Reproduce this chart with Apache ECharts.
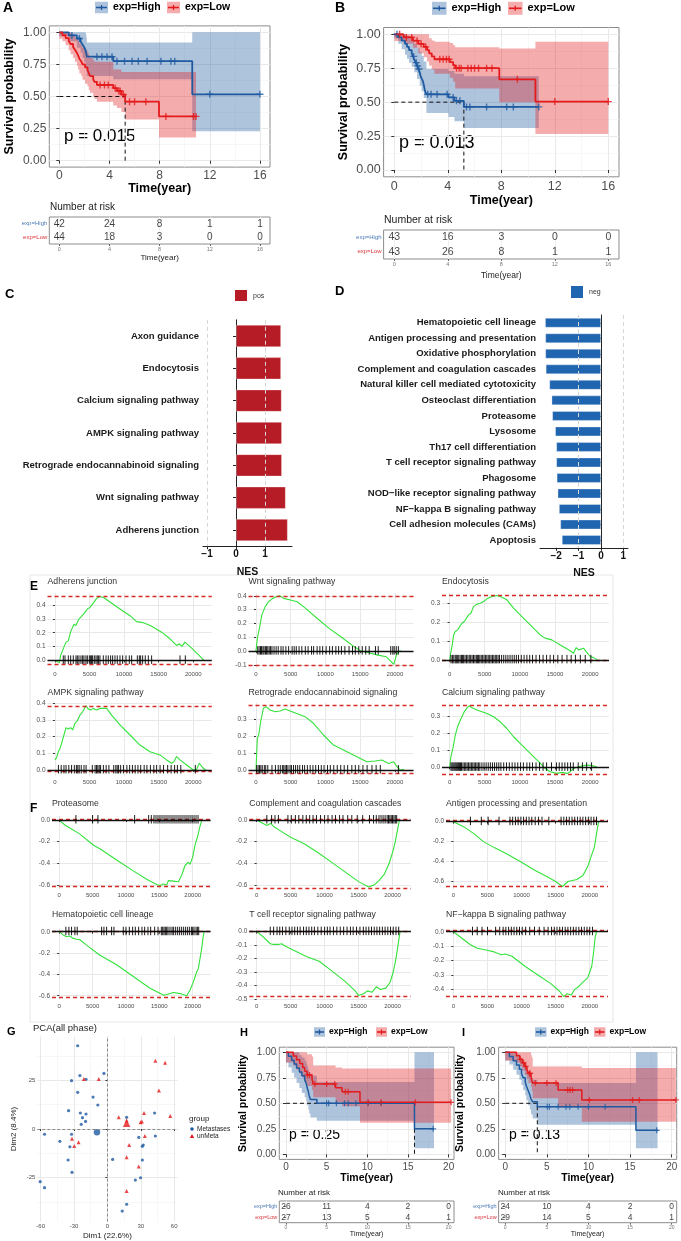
<!DOCTYPE html>
<html>
<head>
<meta charset="utf-8">
<script src="https://cdn.jsdelivr.net/npm/echarts@6.0.0/dist/echarts.min.js"></script>
<style>
html,body{margin:0;padding:0;background:#fff;}
#chart{width:681px;height:1241px;}
</style>
</head>
<body>
<div id="chart"></div>
<script>
// ---------- A: survival (time in years, probability) ----------
const aHighSurv = [[0,1],[0.75,0.976],[1.4,0.952],[1.7,0.929],[1.85,0.905],[2.0,0.881],[2.1,0.857],[2.15,0.833],[2.2,0.81],[4.3,0.775],[10.6,0.517],[16,0.517]];
const aLowSurv = [[0,1],[0.25,0.977],[0.5,0.955],[0.75,0.932],[0.9,0.909],[1.1,0.886],[1.25,0.864],[1.4,0.841],[1.5,0.818],[1.6,0.795],[1.75,0.773],[1.85,0.75],[2.05,0.727],[2.25,0.705],[2.35,0.682],[2.45,0.659],[2.7,0.636],[2.8,0.614],[3.0,0.59],[4.3,0.566],[4.6,0.543],[4.95,0.515],[5.25,0.46],[7.95,0.345],[10.9,0.345]];
const aHighCensor = [[1.0,0.976],[1.6,0.952],[3.0,0.81],[3.4,0.81],[3.8,0.81],[4.2,0.81],[4.6,0.775],[5.2,0.775],[5.8,0.775],[6.3,0.775],[7.0,0.775],[8.1,0.775],[8.9,0.775],[9.2,0.775],[12,0.517],[16,0.517]];
const aLowCensor = [[3.25,0.59],[3.6,0.59],[3.9,0.59],[4.45,0.566],[4.75,0.543],[4.85,0.543],[5.1,0.515],[5.6,0.46],[6.0,0.46],[6.9,0.46],[8.5,0.345],[10.7,0.345],[10.9,0.345]];
const aHighCI = [[0,0.97,1],[0.75,0.93,1],[1.4,0.88,1],[1.7,0.84,1],[1.85,0.8,1],[2.0,0.77,1],[2.1,0.73,0.99],[2.15,0.7,0.96],[2.2,0.66,0.92],[4.3,0.635,0.92],[10.6,0.23,1],[16]];
const aLowCI = [[0,0.95,1],[0.25,0.93,1],[0.5,0.9,1],[0.75,0.86,1],[0.9,0.83,0.99],[1.1,0.8,0.98],[1.25,0.77,0.96],[1.4,0.74,0.95],[1.5,0.71,0.93],[1.6,0.68,0.91],[1.75,0.66,0.9],[1.85,0.63,0.88],[2.05,0.6,0.86],[2.25,0.58,0.84],[2.35,0.55,0.82],[2.45,0.53,0.8],[2.7,0.5,0.78],[2.8,0.48,0.77],[3.0,0.46,0.77],[4.3,0.43,0.71],[4.6,0.41,0.71],[4.95,0.38,0.69],[5.25,0.32,0.69],[7.95,0.18,0.69],[10.9]];
const aMedian = 5.25;
const aRiskTimes = [0,4,8,12,16];
const aRiskHigh = [42,24,8,1,1];
const aRiskLow = [44,18,3,0,0];

// ---------- B ----------
const bHighSurv = [[0,1],[0.3,0.977],[0.55,0.953],[0.8,0.93],[0.95,0.907],[1.1,0.884],[1.3,0.86],[1.4,0.837],[1.5,0.814],[1.6,0.791],[1.7,0.767],[1.8,0.744],[1.9,0.721],[1.95,0.698],[2.05,0.674],[2.15,0.651],[2.2,0.628],[2.25,0.605],[2.3,0.581],[2.4,0.558],[4.05,0.535],[4.5,0.51],[5.2,0.465],[10.8,0.465]];
const bLowSurv = [[0,1],[0.7,0.977],[1.4,0.953],[1.8,0.93],[2.2,0.907],[2.45,0.884],[2.6,0.86],[2.8,0.837],[3.0,0.816],[4.15,0.795],[4.4,0.772],[4.55,0.75],[7.85,0.668],[10.55,0.504],[16,0.504]];
const bHighCensor = [[0.2,1],[1.45,0.837],[1.65,0.791],[1.75,0.767],[1.85,0.744],[2.5,0.558],[2.75,0.558],[3.2,0.558],[3.95,0.558],[4.4,0.535],[4.65,0.51],[4.9,0.51],[5.4,0.465],[5.65,0.465],[6.9,0.465],[8.4,0.465],[8.9,0.465],[10.8,0.465]];
const bLowCensor = [[0.4,1],[0.9,0.977],[1.3,0.977],[1.7,0.953],[2.0,0.93],[2.35,0.907],[3.4,0.816],[3.65,0.816],[3.9,0.816],[4.1,0.816],[4.65,0.75],[4.85,0.75],[5.0,0.75],[5.5,0.75],[5.75,0.75],[6.0,0.75],[6.3,0.75],[6.9,0.75],[7.3,0.75],[9.2,0.668],[12,0.504],[16,0.504]];
const bHighCI = [[0,0.97,1],[0.3,0.93,1],[0.55,0.89,1],[0.8,0.85,1],[0.95,0.82,0.99],[1.1,0.79,0.97],[1.3,0.76,0.95],[1.5,0.72,0.93],[1.7,0.67,0.9],[1.9,0.62,0.87],[2.05,0.58,0.84],[2.2,0.53,0.8],[2.4,0.42,0.745],[4.05,0.39,0.73],[4.5,0.36,0.71],[5.2,0.31,0.69],[10.8]];
const bLowCI = [[0,0.95,1],[0.7,0.93,1],[1.4,0.9,1],[1.8,0.86,1],[2.2,0.83,1],[2.45,0.8,1],[2.6,0.77,0.97],[2.8,0.74,0.955],[3.0,0.71,0.945],[4.15,0.68,0.935],[4.4,0.65,0.92],[4.55,0.6,0.905],[7.85,0.5,0.895],[10.55,0.265,0.945],[16]];
const bMedian = 5.2;
const bRiskTimes = [0,4,8,12,16];
const bRiskHigh = [43,16,3,0,0];
const bRiskLow = [43,26,8,1,1];

// ---------- H ----------
const hHighSurv = [[0,1],[0.3,0.962],[0.7,0.923],[1.0,0.885],[1.3,0.846],[1.65,0.808],[1.95,0.769],[2.3,0.731],[2.5,0.692],[2.6,0.654],[2.75,0.615],[2.85,0.577],[3.0,0.538],[3.8,0.5],[15.8,0.25],[18.2,0.25]];
const hLowSurv = [[0,1],[0.9,0.963],[1.3,0.926],[1.7,0.889],[2.05,0.852],[2.3,0.815],[2.6,0.778],[3.2,0.741],[3.35,0.69],[6.1,0.652],[6.9,0.614],[9.1,0.51],[20.3,0.51]];
const hHighCensor = [[5.0,0.5],[5.25,0.5],[6.2,0.5],[7.2,0.5],[7.65,0.5],[8.6,0.5],[10.1,0.5],[11.7,0.5],[18.1,0.25]];
const hLowCensor = [[2.65,0.778],[2.9,0.778],[3.55,0.69],[5.0,0.69],[6.0,0.69],[7.3,0.614],[7.65,0.614],[10.1,0.51],[11.7,0.51],[15.9,0.51],[20.3,0.51]];
const hHighCI = [[0,0.9,1],[0.3,0.85,1],[0.7,0.8,1],[1.0,0.75,1],[1.3,0.7,1],[1.65,0.65,0.97],[1.95,0.6,0.95],[2.3,0.56,0.92],[2.5,0.52,0.89],[2.6,0.48,0.86],[2.75,0.44,0.83],[2.85,0.4,0.8],[3.0,0.36,0.77],[3.8,0.33,0.71],[15.8,0.06,1],[18.2]];
const hLowCI = [[0,0.9,1],[0.9,0.87,1],[1.3,0.83,1],[1.7,0.79,1],[2.05,0.75,1],[2.3,0.71,1],[2.6,0.67,0.98],[3.2,0.63,0.96],[3.35,0.56,0.87],[6.1,0.51,0.85],[6.9,0.47,0.84],[9.1,0.31,0.84],[20.3]];
const hMedian = 15.8;
const hRiskTimes = [0,5,10,15,20];
const hRiskHigh = [26,11,4,2,0];
const hRiskLow = [27,13,5,4,1];

// ---------- I ----------
const iHighSurv = [[0,1],[0.5,0.958],[0.95,0.917],[1.35,0.875],[1.7,0.833],[1.95,0.792],[2.15,0.75],[2.4,0.708],[2.55,0.667],[2.75,0.625],[2.95,0.583],[3.1,0.542],[3.3,0.515],[3.85,0.467],[15.7,0.235],[18.3,0.235]];
const iLowSurv = [[0,1],[1.35,0.966],[1.75,0.931],[2.05,0.897],[2.35,0.862],[2.6,0.828],[2.8,0.793],[3.1,0.759],[3.2,0.724],[3.3,0.7],[6.35,0.63],[9.2,0.533],[20.5,0.533]];
const iHighCensor = [[5.05,0.467],[5.3,0.467],[6.35,0.467],[7.3,0.467],[7.75,0.467],[8.75,0.467],[10.0,0.467],[12.0,0.467],[18.2,0.235]];
const iLowCensor = [[1.8,0.931],[2.2,0.897],[2.45,0.862],[2.9,0.793],[3.0,0.793],[3.6,0.7],[5.0,0.7],[6.1,0.7],[7.5,0.63],[7.8,0.63],[8.1,0.63],[10.1,0.533],[15.3,0.533],[16.1,0.533],[20.5,0.533]];
const iHighCI = [[0,0.92,1],[0.5,0.88,1],[0.95,0.83,1],[1.35,0.78,0.98],[1.7,0.73,0.95],[1.95,0.68,0.93],[2.15,0.63,0.9],[2.4,0.58,0.87],[2.55,0.53,0.84],[2.75,0.48,0.81],[2.95,0.44,0.78],[3.1,0.39,0.75],[3.3,0.35,0.73],[3.85,0.29,0.7],[15.7,0.06,1],[18.3]];
const iLowCI = [[0,0.92,1],[1.35,0.9,1],[1.75,0.86,1],[2.05,0.82,1],[2.35,0.78,1],[2.6,0.74,1],[2.8,0.7,1],[3.1,0.66,0.97],[3.2,0.62,0.95],[3.3,0.55,0.86],[6.35,0.46,0.86],[9.2,0.32,0.845],[20.5]];
const iMedian = 3.85;
const iRiskTimes = [0,5,10,15,20];
const iRiskHigh = [24,10,4,2,0];
const iRiskLow = [29,14,5,4,1];

// ---------- C / D: NES bars ----------
const posPathways = ['Axon guidance','Endocytosis','Calcium signaling pathway','AMPK signaling pathway','Retrograde endocannabinoid signaling','Wnt signaling pathway','Adherens junction'];
const posNES = [1.55,1.55,1.57,1.58,1.58,1.71,1.78];
const negPathways = ['Hematopoietic cell lineage','Antigen processing and presentation','Oxidative phosphorylation','Complement and coagulation cascades','Natural killer cell mediated cytotoxicity','Osteoclast differentiation','Proteasome','Lysosome','Th17 cell differentiation','T cell receptor signaling pathway','Phagosome','NOD\u2212like receptor signaling pathway','NF\u2212kappa B signaling pathway','Cell adhesion molecules (CAMs)','Apoptosis'];
const negNES = [-2.49,-2.48,-2.48,-2.46,-2.30,-2.20,-2.17,-2.04,-1.99,-1.99,-1.97,-1.93,-1.87,-1.81,-1.74];

// ---------- E / F: running enrichment score [rank, ES] and hit ranks ----------
const gseaTitles = ['Adherens junction','Wnt signaling pathway','Endocytosis','AMPK signaling pathway','Retrograde endocannabinoid signaling','Calcium signaling pathway','Proteasome','Complement and coagulation cascades','Antigen processing and presentation','Hematopoietic cell lineage','T cell receptor signaling pathway','NF\u2212kappa B signaling pathway'];
const esAdherens = [[0,0],[240,-0.007],[630,-0.017],[820,0.036],[1110,0.072],[1350,0.103],[1590,0.132],[1930,0.141],[2270,0.208],[2750,0.261],[3040,0.251],[3370,0.292],[3760,0.314],[4190,0.338],[4680,0.371],[5060,0.383],[5540,0.414],[6030,0.448],[6510,0.462],[7090,0.453],[7950,0.422],[9400,0.371],[10850,0.323],[11810,0.28],[12530,0.275],[13260,0.263],[13980,0.247],[15420,0.204],[16630,0.156],[17590,0.108],[17980,0.12],[18360,0.101],[18800,0.132],[19760,0.089],[20730,0.041],[21550,0]];
const hitsAdherens = [1200,1450,1930,2270,2650,3040,3230,3470,3760,4000,4190,4480,4680,4970,5160,5300,5450,5690,5930,6120,6310,6510,6990,7380,7710,8050,8340,8680,9010,9400,9790,10270,10750,11090,11910,12200,12390,12680,13060,13500,13980,18080,18850];
const esWnt = [[0,0],[190,0.092],[490,0.164],[830,0.26],[1310,0.32],[1800,0.357],[2280,0.376],[2910,0.393],[3400,0.4],[3980,0.381],[4950,0.369],[5920,0.357],[6890,0.32],[8830,0.236],[10530,0.164],[12220,0.104],[14160,0.031],[15130,0],[16100,-0.01],[17560,-0.029],[18770,-0.041],[19500,-0.077],[19840,-0.096],[20220,-0.029],[20560,0],[20950,0]];
const hitsWnt = [250,450,650,800,1000,1150,1350,1500,1700,1900,2100,2300,2600,2900,3200,3600,3900,4300,4700,5200,5500,5800,6200,6600,7100,7500,8000,8300,8800,9200,9600,10100,10600,11000,11500,11900,12300,12800,13400,13900,14300,14800,15300,15800,16300,17200,17600,19400,19700,19900,20200,20500];
const esEndocytosis = [[0,0],[190,0.044],[380,0.079],[570,0.132],[810,0.15],[1140,0.159],[1420,0.154],[1750,0.194],[2090,0.203],[2700,0.238],[3030,0.247],[3410,0.282],[3890,0.295],[4360,0.3],[4840,0.309],[5310,0.323],[6020,0.335],[6730,0.341],[7210,0.335],[8150,0.318],[9100,0.274],[10290,0.229],[11470,0.185],[12890,0.132],[13600,0.115],[14550,0.106],[15740,0.079],[17160,0.048],[17630,0.035],[18010,0.065],[18340,0.053],[19060,0.062],[19430,0.044],[20000,0.018],[20480,0.012],[21050,0]];
const hitsEndocytosis = [200,400,600,800,950,1100,1300,1500,1700,1850,2000,2200,2400,2600,2800,3000,3200,3400,3600,3800,3950,4100,4300,4500,4700,4900,5100,5300,5500,5700,5900,6100,6300,6500,6700,6900,7100,7400,7700,8000,8300,8600,8900,9200,9500,9800,10200,10600,11000,11400,11800,12300,12800,13300,13800,14300,14800,15400,16000,16700,17300,17900,18600,19300,20100];
const esAMPK = [[0,0.06],[240,0.074],[480,0.109],[720,0.129],[960,0.159],[1300,0.209],[1590,0.253],[1930,0.245],[2270,0.253],[2560,0.239],[2890,0.279],[3230,0.293],[3620,0.328],[4000,0.348],[4480,0.384],[4820,0.364],[5160,0.358],[5540,0.368],[6030,0.358],[6510,0.368],[7470,0.368],[8190,0.328],[9400,0.269],[10850,0.209],[12290,0.149],[13740,0.109],[15180,0.09],[16150,0.06],[16870,0.04],[17210,0.05],[17590,0.08],[18080,0.06],[19040,0.03],[20000,0],[20490,0.004],[20870,0.04],[21450,0.01],[21800,0]];
const hitsAMPK = [500,900,1300,1600,2000,2400,2800,3100,3300,3500,3800,4200,4500,5400,5800,6000,6200,6400,6600,7000,7400,7800,8500,8800,9000,9200,9500,9900,10400,10800,11200,11600,12000,12400,12900,13300,13800,14300,14700,15200,15700,16300,16800,17300,17700,18200,20300];
const esRetrograde = [[0,0],[190,0.186],[390,0.206],[670,0.284],[1060,0.363],[1440,0.373],[2020,0.353],[2740,0.343],[3460,0.347],[4190,0.359],[4910,0.347],[5870,0.333],[7070,0.314],[8270,0.275],[9720,0.206],[11160,0.147],[12600,0.118],[14530,0.078],[15970,0.049],[17170,0.053],[18130,0.059],[19100,0.039],[19820,0.049],[20300,0.02],[20780,0],[21260,0.004]];
const hitsRetrograde = [100,300,500,700,900,1200,1400,1700,2300,2800,3200,3500,3800,4000,4200,4400,4600,4900,5100,5400,5700,6000,6300,6700,7000,7400,7800,8200,8600,9000,9400,9800,10300,10700,11200,11700,12200,12700,13200,13800,14300,14800,15400,16000,16700,17300,17900,20500];
const esCalcium = [[0,0],[190,0.062],[470,0.11],[810,0.188],[1140,0.236],[1420,0.265],[1750,0.294],[2090,0.323],[2470,0.346],[2840,0.358],[3180,0.346],[3890,0.333],[4600,0.323],[5310,0.313],[6260,0.294],[7210,0.265],[8150,0.226],[9100,0.178],[10290,0.13],[11470,0.081],[12660,0.033],[13600,-0.006],[14320,-0.025],[15260,-0.035],[15970,-0.029],[16690,-0.035],[17160,-0.025],[17630,-0.006],[18340,0.004],[19060,0.01],[19770,0.014],[20240,0.01],[20950,0.004]];
const hitsCalcium = [200,350,500,650,800,950,1100,1250,1400,1550,1700,1900,2100,2300,2500,2700,2900,3100,3300,3500,3700,3900,4100,4300,4600,4900,5200,5500,5800,6100,6400,6700,7000,7300,7700,8100,8500,8900,9300,9700,10100,10500,11000,11400,11800,12300,12800,13300,13800,14500,15200,15600,16000,16400,16800,17200,17600,18300,18900,19500,20200];
const esProteasome = [[0,0],[850,-0.046],[3100,-0.13],[5200,-0.235],[6100,-0.265],[8600,-0.37],[11100,-0.47],[13100,-0.548],[14600,-0.595],[15100,-0.605],[15600,-0.592],[16100,-0.6],[16350,-0.56],[17100,-0.565],[17850,-0.57],[18350,-0.51],[18850,-0.42],[19350,-0.39],[19600,-0.41],[20000,-0.34],[20350,-0.23],[20750,-0.15],[21000,-0.08],[21350,0]];
const hitsProteasome = [2500,5000,5800,11300,13400,13800,14200,14500,14800,15100,15400,15700,16000,16300,16600,16900,17200,17500,17800,18100,18400,18700,19000,19300,19600,19900,20200,20500,20800];
const esComplement = [[0,0],[1500,-0.05],[2100,-0.03],[2500,-0.06],[3500,-0.1],[5000,-0.16],[7000,-0.22],[9000,-0.3],[11000,-0.39],[13000,-0.48],[15000,-0.57],[16500,-0.62],[17300,-0.6],[18000,-0.56],[18800,-0.5],[19500,-0.4],[20000,-0.3],[20400,-0.2],[20700,-0.1],[21000,0]];
const hitsComplement = [1500,2200,2700,3200,4600,5100,5700,6200,6800,7300,7800,8300,8800,9400,10000,10500,11100,11600,12200,12700,13400,14000,14800,15600,16600,17200,17600,18000,18300,18600,18900,19200,19400,19600,19800,20000,20200,20400,20600];
const esAntigen = [[0,0],[1500,-0.05],[3000,-0.12],[4400,-0.2],[6000,-0.26],[8000,-0.33],[9800,-0.4],[12000,-0.49],[13700,-0.55],[15000,-0.6],[16000,-0.65],[16800,-0.6],[18100,-0.58],[19000,-0.54],[19700,-0.45],[20300,-0.33],[20700,-0.25],[21000,-0.12],[21300,0]];
const hitsAntigen = [2500,4100,5100,6700,8300,8700,9100,9500,9900,10300,10700,11100,11500,12000,12500,13000,14000,15800,16200,16600,17000,17400,17800,18200,18600,19000,19400,19800,20200,20600,21000];
const esHematopoietic = [[0,0],[600,-0.03],[1100,-0.047],[1600,-0.04],[2000,-0.06],[2600,-0.07],[3100,-0.075],[4100,-0.125],[6100,-0.22],[8600,-0.31],[11100,-0.42],[13600,-0.53],[15600,-0.594],[16100,-0.588],[17100,-0.57],[18100,-0.58],[19100,-0.6],[19600,-0.547],[20100,-0.47],[20600,-0.375],[20850,-0.344],[21100,-0.25],[21350,-0.156],[21600,-0.03],[21750,0]];
const hitsHematopoietic = [1000,1450,1850,2350,2700,6350,6700,7100,7850,8200,9600,10000,10500,11000,11400,11900,12400,12800,13300,13700,14300,14800,15300,15500,15700,15900,16100,16300,16600,16900,17100,17400,17700,18000,18300,18600,18900,19200,19500,19800,20000,20200,20500,20700,20900];
const esTcell = [[0,0],[1000,-0.04],[2000,-0.09],[2500,-0.095],[3200,-0.095],[3700,-0.09],[4100,-0.105],[5300,-0.135],[7300,-0.185],[9200,-0.22],[11000,-0.29],[13000,-0.37],[14500,-0.44],[15000,-0.475],[15800,-0.46],[16300,-0.44],[17000,-0.45],[17600,-0.41],[18200,-0.43],[19000,-0.42],[19600,-0.38],[20100,-0.3],[20500,-0.2],[20800,-0.1],[21100,0]];
const hitsTcell = [2000,2500,3000,3400,3800,4300,4800,5200,5600,6000,6400,6900,7300,7700,8100,8500,9000,9500,10000,10400,10800,11300,11800,12300,12800,13300,13800,14200,14700,15200,15700,16100,16500,16900,17300,17700,18100,18500,18900,19300,19700,20100,20500,20900];
const esNFkB = [[0,0],[2500,-0.09],[3500,-0.115],[4800,-0.127],[6000,-0.14],[7000,-0.16],[7600,-0.155],[8600,-0.17],[10500,-0.24],[12400,-0.3],[14300,-0.36],[15600,-0.415],[16200,-0.45],[16700,-0.43],[17300,-0.44],[17800,-0.4],[18400,-0.38],[19000,-0.35],[19700,-0.32],[20300,-0.24],[20600,-0.13],[20800,-0.035],[21000,0]];
const hitsNFkB = [2800,3500,4200,5000,6200,6800,7300,7700,8100,8500,8900,9300,9700,10100,10600,11200,11900,12600,13300,13900,14400,14800,15200,15600,16000,16400,16800,17200,17600,18000,18400,18800,19200,19600,20000,20400];
const esPeaks = [[0.462,-0.03],[0.4,-0.097],[0.34,0],[0.382,-0.012],[0.376,-0.016],[0.357,-0.04],[0.01,-0.61],[0.01,-0.625],[0.005,-0.652],[0.004,-0.61],[0.003,-0.48],[0.008,-0.452]];
const esTicks = [[0,0.1,0.2,0.3,0.4],[-0.1,0,0.1,0.2,0.3,0.4],[0,0.1,0.2,0.3],[0,0.1,0.2,0.3,0.4],[0,0.1,0.2,0.3],[0,0.1,0.2,0.3],[-0.6,-0.4,-0.2,0],[-0.6,-0.4,-0.2,0],[-0.6,-0.4,-0.2,0],[-0.6,-0.4,-0.2,0],[-0.5,-0.4,-0.3,-0.2,-0.1,0],[-0.4,-0.3,-0.2,-0.1,0]];
const rankTicks = [0,5000,10000,15000,20000];

// ---------- G: PCA ----------
const metaPoints = [[-26.7,42.7],[-24.7,27.4],[-19.2,25.5],[-32.2,24.8],[-3.1,28.5],[-26.7,18.8],[-12.9,16.4],[-8.6,12.3],[-24.3,8.2],[-19.2,7.7],[-34.9,9.4],[-22.4,5.8],[-19.6,3.9],[-23.5,2.4],[-56.5,-2.7],[-42.7,-6.3],[-32.2,-2.7],[-33.7,-9.1],[-35.3,-15.9],[-31.8,-22.2],[-60.4,-27],[-56.5,-30.1],[32.2,-8.2],[31.4,-8.9],[28.2,-4.3],[43.1,-3.6],[42.4,8.2],[17.3,6.0],[4.7,-15.6],[31.4,-15.9],[29.8,-25],[25.1,-26.2],[17.3,-38.6],[13.3,-42.1]];
const unMetaPoints = [[-21.2,25.6],[-7.8,25.6],[-31.8,-5],[-25.9,-6.8],[-29.8,-8.7],[10.2,6.0],[17.3,4.3],[29.8,3.4],[31,3.9],[32.9,8.2],[19.6,-8.2],[17.3,-14.5],[28.2,-19.3],[17.3,-31.8],[33.7,-3.6],[43.1,35],[51.8,34],[46.3,19.7],[56.5,6.7]];
const metaCenter = [[-9.4,-1.7]];
const unMetaCenter = [[17.3,2.9]];

// ---------- build ----------
const FF = '"Liberation Sans", Arial, sans-serif';
const BLUE = '#1f5aa0', RED = '#e41a1c';
const BLUE_F = 'rgba(31,91,161,0.36)', RED_F = 'rgba(228,26,28,0.36)';
const PLUS = 'path://M4,0h2v4h4v2h-4v4h-2v-4h-4v-2h4z';
const grids = [], xAxes = [], yAxes = [], series = [], graphics = [];

function txt(x, y, t, o) {
  o = o || {};
  graphics.push({type:'text', x:x, y:y, rotation:o.rot || 0, silent:true,
    style:{text:t, fill:o.color || '#000', fontSize:o.size || 10, fontWeight:o.bold ? 'bold' : 'normal', fontFamily:FF,
      align:o.align || 'left', verticalAlign:o.va || 'middle', textAlign:o.align || 'left', textVerticalAlign:o.va || 'middle'}});
}
function addGrid(l, t, w, h, extra) {
  grids.push(Object.assign({left:l, top:t, width:w, height:h, outerBoundsMode:'none', containLabel:false}, extra || {}));
  return grids.length - 1;
}
function bandSeries(xi, yi, band, fill) {
  return {type:'custom', xAxisIndex:xi, yAxisIndex:yi, silent:true, z:1, data:[[band[0][0], band[0][1]]],
    renderItem: function (params, api) {
      const up = [], lo = [];
      for (let i = 0; i < band.length - 1; i++) {
        const t0 = band[i][0], t1 = band[i + 1][0];
        up.push(api.coord([t0, band[i][2]]), api.coord([t1, band[i][2]]));
        lo.push(api.coord([t0, band[i][1]]), api.coord([t1, band[i][1]]));
      }
      return {type:'polygon', shape:{points:up.concat(lo.reverse())}, style:{fill:fill}};
    }};
}

function kmPlot(o) {
  const g = addGrid(o.l, o.t, o.w, o.h, {show:true, borderColor:'#8c8c8c', borderWidth:1, backgroundColor:'#fff'});
  const yt = [0,0.25,0.5,0.75,1];
  const xi = xAxes.length;
  xAxes.push({gridIndex:g, type:'value', min:o.xMin, max:o.xMax, axisLine:{show:false},
    axisTick:{show:true, length:3, customValues:o.xTicks, lineStyle:{color:'#333'}},
    axisLabel:{customValues:o.xTicks, fontSize:o.fs, color:'#4d4d4d', margin:3, fontFamily:FF},
    splitLine:{show:true, lineStyle:{color:'#e9e9e9', width:1}},
    name:'Time(year)', nameLocation:'middle', nameGap:o.xGap, nameMoveOverlap:false,
    nameTextStyle:{fontSize:o.nfs, fontWeight:'bold', color:'#000', fontFamily:FF}});
  xAxes.push({gridIndex:g, type:'value', min:o.xMin, max:o.xMax, axisLine:{show:false}, axisLabel:{show:false},
    axisTick:{show:false, customValues:o.xMinor}, splitLine:{show:true, lineStyle:{color:'#f3f3f3', width:0.7}}});
  const yi = yAxes.length;
  yAxes.push({gridIndex:g, type:'value', min:-0.05, max:1.05, axisLine:{show:false},
    axisTick:{show:true, length:3, customValues:yt, lineStyle:{color:'#333'}},
    axisLabel:{customValues:yt, formatter:v => v.toFixed(2), fontSize:o.fs, color:'#4d4d4d', margin:3, fontFamily:FF},
    splitLine:{show:true, lineStyle:{color:'#e9e9e9', width:1}},
    name:'Survival probability', nameLocation:'middle', nameGap:o.yGap, nameRotate:90, nameMoveOverlap:false,
    nameTextStyle:{fontSize:o.nfs, fontWeight:'bold', color:'#000', fontFamily:FF}});
  yAxes.push({gridIndex:g, type:'value', min:-0.05, max:1.05, axisLine:{show:false}, axisLabel:{show:false},
    axisTick:{show:false, customValues:[0.125,0.375,0.625,0.875]}, splitLine:{show:true, lineStyle:{color:'#f3f3f3', width:0.7}}});
  series.push(bandSeries(xi, yi, o.hiCI, BLUE_F), bandSeries(xi, yi, o.loCI, RED_F));
  series.push({type:'line', xAxisIndex:xi, yAxisIndex:yi, data:[[0,0.5],[o.med,0.5],[o.med,0]], symbol:'none', silent:true, z:3,
    lineStyle:{color:'#111', type:[4,3], width:1}});
  [[o.hi, BLUE], [o.lo, RED]].forEach(([d, c]) => series.push({type:'line', xAxisIndex:xi, yAxisIndex:yi, data:d, step:'end',
    symbol:'none', silent:true, z:4, lineStyle:{color:c, width:o.lw}}));
  [[o.hiC, BLUE], [o.loC, RED]].forEach(([d, c]) => series.push({type:'scatter', xAxisIndex:xi, yAxisIndex:yi, data:d,
    symbol:PLUS, symbolSize:o.cs, silent:true, z:5, itemStyle:{color:c}}));
}

function riskTable(o) {
  const g = addGrid(o.l, o.t, o.w, o.h, {show:true, borderColor:'#8c8c8c', borderWidth:1, backgroundColor:'#fff'});
  const xi = xAxes.length;
  xAxes.push({gridIndex:g, type:'value', min:o.xMin, max:o.xMax, axisLine:{show:false},
    axisTick:{show:true, length:2, customValues:o.times, lineStyle:{color:'#666'}},
    axisLabel:{customValues:o.times, fontSize:o.tfs, color:'#777', margin:2, fontFamily:FF},
    splitLine:{show:true, lineStyle:{color:'#efefef'}},
    name:'Time(year)', nameLocation:'middle', nameGap:o.xGap, nameMoveOverlap:false,
    nameTextStyle:{fontSize:o.nfs, color:'#222', fontFamily:FF}});
  const yi = yAxes.length;
  yAxes.push({gridIndex:g, type:'category', inverse:true, data:['exp=High','exp=Low'], axisLine:{show:false},
    axisTick:{show:true, length:2, alignWithLabel:true, interval:0, lineStyle:{color:'#666'}},
    axisLabel:{margin:2, interval:0, hideOverlap:false, fontFamily:FF, formatter:v => (v === 'exp=High' ? '{h|' : '{l|') + v + '}',
      rich:{h:{color:'#4a7ab5', fontSize:o.lfs, fontFamily:FF}, l:{color:'#d9363b', fontSize:o.lfs, fontFamily:FF}}},
    splitLine:{show:false}});
  const data = o.times.map((t, i) => [t, 'exp=High', o.hi[i]]).concat(o.times.map((t, i) => [t, 'exp=Low', o.lo[i]]));
  series.push({type:'scatter', xAxisIndex:xi, yAxisIndex:yi, data:data, symbol:'rect', symbolSize:1, silent:true,
    itemStyle:{color:'rgba(0,0,0,0)'},
    label:{show:true, position:'inside', formatter:p => String(p.value[2]), fontSize:o.vfs, color:'#111', fontFamily:FF}});
}

function kmLegend(xb, xr, y, bw, bh, fs, tx) {
  [[xb, BLUE, BLUE_F, 'exp=High'], [xr, RED, RED_F, 'exp=Low']].forEach(([x, lc, fc, t]) => {
    graphics.push({type:'rect', silent:true, shape:{x:x, y:y - bh / 2, width:bw, height:bh}, style:{fill:fc}});
    graphics.push({type:'line', silent:true, shape:{x1:x + 1, y1:y, x2:x + bw - 1, y2:y}, style:{stroke:lc, lineWidth:1.6}});
    graphics.push({type:'line', silent:true, shape:{x1:x + bw / 2, y1:y - 2.5, x2:x + bw / 2, y2:y + 2.5}, style:{stroke:lc, lineWidth:1.3}});
    txt(x + bw + tx, y, t, {size:fs, bold:true});
  });
}

// A
kmPlot({l:49.3, t:25.9, w:220.7, h:141.2, xMin:-0.8, xMax:16.8, xTicks:[0,4,8,12,16], xMinor:[2,6,10,14], fs:12, nfs:12.5,
  xGap:15, yGap:33, hi:aHighSurv, lo:aLowSurv, hiC:aHighCensor, loC:aLowCensor, hiCI:aHighCI, loCI:aLowCI, med:aMedian, lw:1.8, cs:7});
riskTable({l:49.3, t:217, w:220.7, h:27, xMin:-0.8, xMax:16.8, times:aRiskTimes, hi:aRiskHigh, lo:aRiskLow, tfs:5.5, nfs:8, lfs:6, vfs:10, xGap:10});
// B
kmPlot({l:383.6, t:27.5, w:235.4, h:149.3, xMin:-0.8, xMax:16.8, xTicks:[0,4,8,12,16], xMinor:[2,6,10,14], fs:12.5, nfs:12.5,
  xGap:17, yGap:34, hi:bHighSurv, lo:bLowSurv, hiC:bHighCensor, loC:bLowCensor, hiCI:bHighCI, loCI:bLowCI, med:bMedian, lw:1.8, cs:7});
riskTable({l:383.6, t:230, w:235.4, h:29, xMin:-0.8, xMax:16.8, times:bRiskTimes, hi:bRiskHigh, lo:bRiskLow, tfs:5.5, nfs:8.5, lfs:6, vfs:10.5, xGap:12});
// H
kmPlot({l:279.3, t:1047.2, w:174.7, h:112.2, xMin:-0.82, xMax:20.66, xTicks:[0,5,10,15,20], xMinor:[2.5,7.5,12.5,17.5], fs:10, nfs:10.5,
  xGap:13, yGap:31, hi:hHighSurv, lo:hLowSurv, hiC:hHighCensor, loC:hLowCensor, hiCI:hHighCI, loCI:hLowCI, med:hMedian, lw:1.5, cs:6});
riskTable({l:279.3, t:1201, w:174.7, h:21.7, xMin:-0.82, xMax:20.66, times:hRiskTimes, hi:hRiskHigh, lo:hRiskLow, tfs:5, nfs:7, lfs:5.5, vfs:8.5, xGap:8});
// I
kmPlot({l:498.6, t:1047.2, w:178.1, h:112.2, xMin:-0.8, xMax:20.6, xTicks:[0,5,10,15,20], xMinor:[2.5,7.5,12.5,17.5], fs:10, nfs:10.5,
  xGap:13, yGap:33, hi:iHighSurv, lo:iLowSurv, hiC:iHighCensor, loC:iLowCensor, hiCI:iHighCI, loCI:iLowCI, med:iMedian, lw:1.5, cs:6});
riskTable({l:498.6, t:1201, w:178.1, h:21.7, xMin:-0.8, xMax:20.6, times:iRiskTimes, hi:iRiskHigh, lo:iRiskLow, tfs:5, nfs:7, lfs:5.5, vfs:8.5, xGap:8});

kmLegend(95, 167, 7.5, 13, 11.5, 10.5, 5);
kmLegend(432, 508, 8.3, 14.5, 13, 11, 5);
kmLegend(314, 376, 1032, 11, 9.5, 8.5, 4);
kmLegend(535, 594, 1032, 11.5, 9.5, 8.5, 4);
txt(64, 136, 'p = 0.015', {size:17});
txt(399, 143, 'p = 0.013', {size:18});
txt(289, 1135, 'p = 0.25', {size:14});
txt(509, 1135, 'p = 0.13', {size:14});
txt(50, 207, 'Number at risk', {size:10, color:'#222'});
txt(384, 220, 'Number at risk', {size:10.5, color:'#222'});
txt(278, 1193, 'Number at risk', {size:8, color:'#222'});
txt(498, 1193, 'Number at risk', {size:8, color:'#222'});

// C / D
function nesBars(o) {
  const g = addGrid(o.l, o.t, o.w, o.h);
  const xi = xAxes.length;
  xAxes.push({gridIndex:g, type:'value', min:o.xMin, max:o.xMax,
    axisLine:{show:true, lineStyle:{color:'#222', width:1}},
    axisTick:{show:true, length:3, customValues:o.xTicks, lineStyle:{color:'#222'}},
    axisLabel:{customValues:o.xTicks, fontSize:10, fontWeight:'bold', color:'#111', margin:3, fontFamily:FF,
      formatter:v => v < 0 ? '\u2212' + (-v) : String(v)},
    splitLine:{show:false}, name:'NES', nameLocation:'middle', nameGap:20, nameMoveOverlap:false,
    nameTextStyle:{fontSize:10.5, fontWeight:'bold', color:'#111', fontFamily:FF}});
  const yi = yAxes.length;
  yAxes.push({gridIndex:g, type:'category', inverse:true, data:o.cats,
    axisLine:{show:true, lineStyle:{color:'#222', width:1}},
    axisTick:{show:true, length:3, alignWithLabel:true, interval:0, lineStyle:{color:'#222'}},
    axisLabel:{interval:0, fontSize:9.5, fontWeight:'bold', color:'#1a1a1a', margin:4, fontFamily:FF}});
  series.push({type:'bar', xAxisIndex:xi, yAxisIndex:yi, data:o.vals, barWidth:o.bw, silent:true,
    itemStyle:{color:o.color, borderColor:'rgba(255,255,255,0.55)', borderWidth:0.6},
    markLine:{silent:true, symbol:'none', label:{show:false}, animation:false,
      lineStyle:{color:'#d6d6d6', type:[4,3], width:1}, data:[{xAxis:-1}, {xAxis:1}]}});
}
nesBars({l:203, t:319.8, w:89, h:226.4, xMin:-1.14, xMax:1.93, xTicks:[-1,0,1], cats:posPathways, vals:posNES, bw:22, color:'#b61c25'});
nesBars({l:540, t:315, w:88, h:232.8, xMin:-2.72, xMax:1.21, xTicks:[-2,-1,0,1], cats:negPathways, vals:negNES, bw:9.6, color:'#2065b0'});
graphics.push({type:'rect', silent:true, shape:{x:235, y:290, width:12, height:11}, style:{fill:'#b61c25'}});
txt(253, 296, 'pos', {size:7, color:'#333'});
graphics.push({type:'rect', silent:true, shape:{x:571, y:286, width:12, height:12}, style:{fill:'#2065b0'}});
txt(589, 292, 'neg', {size:7, color:'#333'});

// E / F
graphics.push({type:'rect', silent:true, shape:{x:30, y:575, width:583, height:447}, style:{fill:'none', stroke:'#e6e6e6', lineWidth:1}});
const gseaES = [esAdherens, esWnt, esEndocytosis, esAMPK, esRetrograde, esCalcium, esProteasome, esComplement, esAntigen, esHematopoietic, esTcell, esNFkB];
const gseaHits = [hitsAdherens, hitsWnt, hitsEndocytosis, hitsAMPK, hitsRetrograde, hitsCalcium, hitsProteasome, hitsComplement, hitsAntigen, hitsHematopoietic, hitsTcell, hitsNFkB];
const colsE = [[47.5,164.3],[248.5,165],[442,167]];
const colsF = [[52,158.6],[249.3,161.5],[446,162]];
const rowsG = [[593,75,582],[702.7,73.8,693],[815.5,74,804],[928,72,915]];
const yLims = [[-0.055,0.487],[-0.122,0.42],[-0.043,0.354],[-0.039,0.402],[-0.038,0.396],[-0.053,0.376],[-0.642,0.042],[-0.643,0.042],[-0.68,0.062],[-0.64,0.035],[-0.508,0.027],[-0.474,0.026]];
gseaES.forEach((es, k) => {
  const r = Math.floor(k / 3), c = k % 3;
  const col = (r < 2 ? colsE : colsF)[c], row = rowsG[r];
  const g = addGrid(col[0], row[0], col[1], row[1]);
  const xi = xAxes.length;
  xAxes.push({gridIndex:g, type:'value', min:-1080, max:22680, axisLine:{show:false},
    axisTick:{show:true, length:2, customValues:rankTicks, lineStyle:{color:'#333'}},
    axisLabel:{customValues:rankTicks, formatter:v => String(v), fontSize:6, color:'#4d4d4d', margin:3, fontFamily:FF},
    splitLine:{show:true, lineStyle:{color:'#e8e8e8'}}});
  const yi = yAxes.length;
  yAxes.push({gridIndex:g, type:'value', min:yLims[k][0], max:yLims[k][1], axisLine:{show:false},
    axisTick:{show:true, length:2, customValues:esTicks[k], lineStyle:{color:'#333'}},
    axisLabel:{customValues:esTicks[k], formatter:v => v.toFixed(1), fontSize:6.5, color:'#4d4d4d', margin:2, fontFamily:FF},
    splitLine:{show:true, lineStyle:{color:'#e8e8e8'}}});
  const red = {color:'#d62a22', type:[4,3], width:1.4};
  series.push({type:'line', xAxisIndex:xi, yAxisIndex:yi, data:es, symbol:'none', silent:true, z:4,
    lineStyle:{color:'#33e23a', width:1.1},
    markLine:{silent:true, symbol:'none', label:{show:false}, animation:false, data:[
      {yAxis:esPeaks[k][0], lineStyle:red}, {yAxis:esPeaks[k][1], lineStyle:red},
      {yAxis:0, lineStyle:{color:'#111', type:'solid', width:1.4}}]}});
  series.push({type:'custom', xAxisIndex:xi, yAxisIndex:yi, silent:true, z:5, data:gseaHits[k].map(h => [h, 0]),
    renderItem:(p, api) => {
      const q = api.coord([api.value(0), 0]);
      return {type:'line', shape:{x1:q[0], y1:q[1] - 5, x2:q[0], y2:q[1] + 3.5}, style:{stroke:'#000', lineWidth:0.9}};
    }});
  txt(col[0], row[2], gseaTitles[k], {size:8.7, color:'#333'});
});

// G: PCA
(function () {
  const g = addGrid(37.3, 1036.4, 140.2, 185.2);
  const xt = [-60,-30,0,30,60], yt = [-25,0,25];
  const xi = xAxes.length;
  xAxes.push({gridIndex:g, type:'value', min:-63, max:63, axisLine:{show:false},
    axisTick:{show:true, length:2, customValues:xt, lineStyle:{color:'#333'}},
    axisLabel:{customValues:xt, fontSize:6, color:'#4d4d4d', margin:2, fontFamily:FF},
    splitLine:{show:true, lineStyle:{color:'#e8e8e8'}},
    name:'Dim1 (22.6%)', nameLocation:'middle', nameGap:10, nameMoveOverlap:false, nameTextStyle:{fontSize:8, color:'#222', fontFamily:FF}});
  xAxes.push({gridIndex:g, type:'value', min:-63, max:63, axisLine:{show:false}, axisLabel:{show:false},
    axisTick:{show:false, customValues:[-45,-15,15,45]}, splitLine:{show:true, lineStyle:{color:'#f3f3f3', width:0.7}}});
  const yi = yAxes.length;
  yAxes.push({gridIndex:g, type:'value', min:-47.5, max:47.5, axisLine:{show:false},
    axisTick:{show:true, length:2, customValues:yt, lineStyle:{color:'#333'}},
    axisLabel:{customValues:yt, fontSize:6, color:'#4d4d4d', margin:2, fontFamily:FF},
    splitLine:{show:true, lineStyle:{color:'#e8e8e8'}},
    name:'Dim2 (8.4%)', nameLocation:'middle', nameGap:20, nameRotate:90, nameMoveOverlap:false, nameTextStyle:{fontSize:8, color:'#222', fontFamily:FF}});
  yAxes.push({gridIndex:g, type:'value', min:-47.5, max:47.5, axisLine:{show:false}, axisLabel:{show:false},
    axisTick:{show:false, customValues:[-37.5,-12.5,12.5,37.5]}, splitLine:{show:true, lineStyle:{color:'#f3f3f3', width:0.7}}});
  series.push({type:'scatter', xAxisIndex:xi, yAxisIndex:yi, data:metaPoints, symbol:'circle', symbolSize:3.2, silent:true, z:3,
    itemStyle:{color:BLUE},
    markLine:{silent:true, symbol:'none', label:{show:false}, animation:false, lineStyle:{color:'#8a8a8a', type:[3,2], width:1},
      data:[{xAxis:0}, {yAxis:0}]}});
  series.push({type:'scatter', xAxisIndex:xi, yAxisIndex:yi, data:unMetaPoints, symbol:'triangle', symbolSize:4, silent:true, z:3, itemStyle:{color:RED}});
  series.push({type:'scatter', xAxisIndex:xi, yAxisIndex:yi, data:metaCenter, symbol:'circle', symbolSize:6.5, silent:true, z:4, itemStyle:{color:BLUE}});
  series.push({type:'scatter', xAxisIndex:xi, yAxisIndex:yi, data:unMetaCenter, symbol:'triangle', symbolSize:7.5, silent:true, z:4, itemStyle:{color:RED}});
})();
txt(33, 1028, 'PCA(all phase)', {size:9.5, color:'#222'});
txt(189, 1119, 'group', {size:8, color:'#222'});
graphics.push({type:'circle', silent:true, shape:{cx:192, cy:1129, r:1.8}, style:{fill:BLUE}});
txt(197, 1129, 'Metastases', {size:6.5, color:'#222'});
graphics.push({type:'polygon', silent:true, shape:{points:[[192,1134],[194.2,1138],[189.8,1138]]}, style:{fill:RED}});
txt(197, 1136.5, 'unMeta', {size:6.5, color:'#222'});

// panel letters
txt(3, 8, 'A', {size:14, bold:true});
txt(335, 8, 'B', {size:14, bold:true});
txt(5, 294, 'C', {size:13, bold:true});
txt(335, 291, 'D', {size:13, bold:true});
txt(30, 587, 'E', {size:12, bold:true});
txt(30, 809, 'F', {size:12, bold:true});
txt(7, 1032, 'G', {size:11, bold:true});
txt(240, 1033, 'H', {size:11, bold:true});
txt(462, 1033, 'I', {size:11, bold:true});

const chart = echarts.init(document.getElementById('chart'), null, {renderer:'canvas', width:681, height:1241});
chart.setOption({
  animation:false,
  backgroundColor:'#fff',
  textStyle:{fontFamily:FF},
  grid:grids, xAxis:xAxes, yAxis:yAxes, series:series, graphic:graphics
});
</script>
</body>
</html>
